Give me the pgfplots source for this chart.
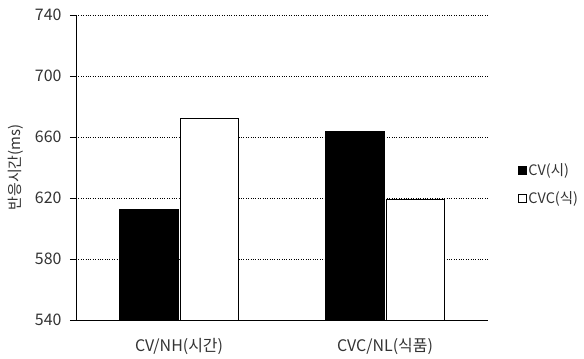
\documentclass[border=0pt]{standalone}
\usepackage{fontspec}
\setmainfont{Noto Sans CJK KR}
\usepackage{pgfplots}
\pgfplotsset{compat=1.18}
\definecolor{txt}{HTML}{333333}
\begin{document}
\begin{tikzpicture}
\begin{axis}[
  scale only axis,
  width=412bp, height=305bp,
  at={(0,0)}, anchor=south west,
  ybar, bar width=0.285,
  xmin=-0.5, xmax=1.5,
  ymin=540, ymax=740,
  ytick={540,580,...,740},
  xtick={0,1},
  xticklabels={CV/NH(시간), CVC/NL(식품)},
  axis x line*=bottom,
  axis y line*=left,
  axis line style={black, line width=0.8pt, -},
  ymajorgrids,
  major grid style={black, dotted, line width=0.6pt},
  tick style={black, line width=0.7pt},
  major x tick style={draw=none},
  major tick length=6bp,
  ytick align=outside,
  /pgf/number format/assume math mode=true,
  ticklabel style={font=\fontsize{16}{18}\selectfont, text=txt},
  yticklabel style={xshift=-5bp},
  xticklabel style={yshift=-9bp},
  ylabel={반응시간(ms)},
  ylabel style={font=\fontsize{15}{17}\selectfont, text=txt, at={(axis description cs:-0.147,0.5)}, anchor=center},
  legend cell align=left,
  legend style={draw=none, fill=none, at={(axis description cs:1.072,0.52)}, anchor=north west,
    font=\fontsize{14.5}{16}\selectfont, text=txt, row sep=11bp, inner sep=0pt,
    /tikz/every even column/.append style={column sep=1bp}},
  legend image code/.code={\draw[#1, line width=0.6pt] (0bp,-3.5bp) rectangle (8bp,4.5bp);},
]
\addplot[fill=black, draw=black, line width=0.8pt] coordinates {(0,612.6) (1,663.9)};
\addplot[fill=white, draw=black, line width=0.8pt] coordinates {(0,672.3) (1,619.3)};
\legend{CV(시), CVC(식)}
\end{axis}
\pgfresetboundingbox
\path[use as bounding box] (-76bp,-39bp) rectangle (508bp,320bp);
\end{tikzpicture}
\end{document}
